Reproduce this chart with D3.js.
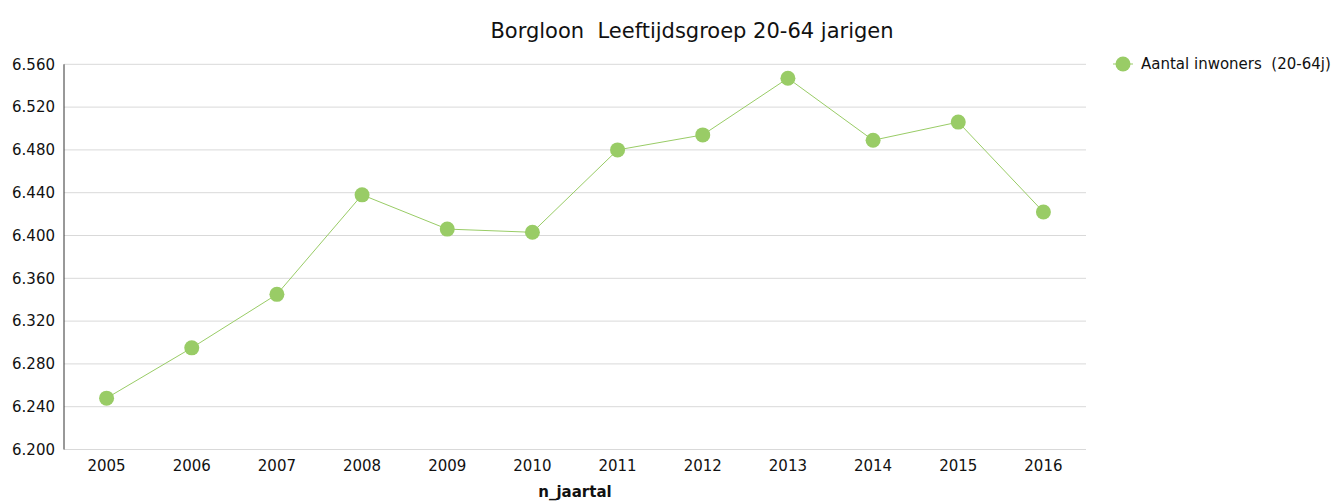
<!DOCTYPE html>
<html>
<head>
<meta charset="utf-8">
<script src="https://cdn.jsdelivr.net/npm/d3@7"></script>
<style>
  body { margin: 0; background: #fff; }
  text { font-family: "DejaVu Sans", Verdana, sans-serif; fill: #111; white-space: pre; }
</style>
</head>
<body>
<svg id="chart" width="1342" height="501"></svg>
<script>
// data
var years = ["2005","2006","2007","2008","2009","2010","2011","2012","2013","2014","2015","2016"];
var inwoners = [6248, 6295, 6345, 6438, 6406, 6403, 6480, 6494, 6547, 6489, 6506, 6422];
var yTicks = [6200, 6240, 6280, 6320, 6360, 6400, 6440, 6480, 6520, 6560];
var title = "Borgloon  Leeftijdsgroep 20-64 jarigen";
var seriesName = "Aantal inwoners  (20-64j)";
var xTitle = "n_jaartal";

var green = "#99cc66";
var svg = d3.select("#chart");

// plot area edges
var pLeft = 64, pRight = 1086, pTop = 64.3, pBottom = 449.5;

var x = d3.scaleBand().domain(years).range([pLeft, pRight]);
var y = d3.scaleLinear().domain([6200, 6560]).range([pBottom, pTop]);

// 6560 -> "6.560" (dot as thousands separator)
var fmt = function(v){ return (v/1000).toFixed(3); };

//grid lines
svg.append("g")
	.selectAll("line")
	.data(yTicks)
	.enter()
	.append("line")
	.attr("x1", pLeft)
	.attr("x2", pRight)
	.attr("y1", function(d){ return y(d); })
	.attr("y2", function(d){ return y(d); })
	.attr("stroke", "#d9d9d9")
	.attr("stroke-width", 1);

// y axis
var yAxis = svg.append("g")
	.attr("transform", "translate(" + pLeft + ",0)")
	.call(d3.axisLeft(y).tickValues(yTicks).tickSize(0).tickPadding(9).tickFormat(fmt));
yAxis.select(".domain").attr("stroke", "#333").attr("d", "M0," + pBottom + "V" + pTop);
yAxis.selectAll("text").style("font-size", "15px").attr("fill", "#111");

// x axis
var xAxis = svg.append("g")
	.attr("transform", "translate(0," + pBottom + ")")
	.call(d3.axisBottom(x).tickSize(0).tickPadding(11));
xAxis.select(".domain").remove();
xAxis.selectAll("text").style("font-size", "15px").attr("fill", "#111");

// line
var line = d3.line()
	.x(function(d, i){ return x(years[i]) + x.bandwidth()/2; })
	.y(function(d){ return y(d); });

svg.append("path")
	.datum(inwoners)
	.attr("d", line)
	.attr("fill", "none")
	.attr("stroke", green)
	.attr("stroke-width", 1);

svg.append("g")
	.selectAll("circle")
	.data(inwoners)
	.enter()
	.append("circle")
	.attr("cx", function(d, i){ return x(years[i]) + x.bandwidth()/2; })
	.attr("cy", function(d){ return y(d); })
	.attr("r", 7.5)
	.attr("fill", green);

// title
svg.append("text")
	.attr("x", 692)
	.attr("y", 38)
	.attr("text-anchor", "middle")
	.style("font-size", "21px")
	.text(title);

// x axis title
svg.append("text")
	.attr("x", (pLeft + pRight)/2)
	.attr("y", 497)
	.attr("text-anchor", "middle")
	.attr("font-weight", "bold")
	.style("font-size", "15px")
	.text(xTitle);

// legend
var lg = svg.append("g").attr("transform", "translate(1123,64)");
lg.append("line").attr("x1", -10).attr("x2", 10).attr("stroke", green).attr("stroke-width", 1);
lg.append("circle").attr("r", 7.5).attr("fill", green);
lg.append("text")
	.attr("x", 18)
	.attr("dy", "0.35em")
	.style("font-size", "15px")
	.text(seriesName);
</script>
</body>
</html>
